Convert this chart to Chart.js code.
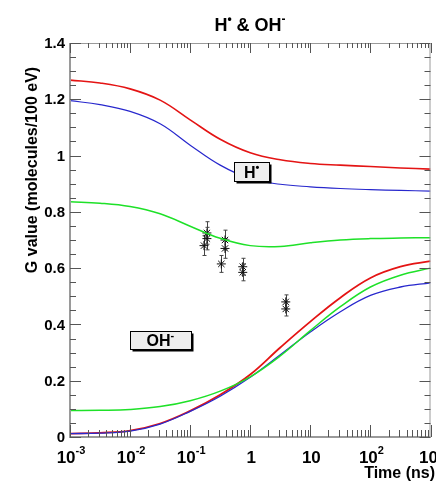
<!DOCTYPE html>
<html>
<head>
<meta charset="utf-8">
<script src="https://cdn.jsdelivr.net/npm/chart.js@4/dist/chart.umd.min.js"></script>
<style>
  html, body { margin: 0; padding: 0; background: #fff; }
  #wrap { width: 436px; height: 482px; position: relative; }
</style>
</head>
<body>
<div id="wrap"><canvas id="myChart"></canvas></div>
<script>
// time grid (ns), half-decade steps
const timeNs = [0.001, 0.00316, 0.01, 0.0316, 0.1, 0.316, 1, 3.16, 10, 31.6, 100, 316, 1000];

// H• G values
const hRed   = [1.268, 1.258, 1.237, 1.197, 1.127, 1.058, 1.010, 0.985, 0.972, 0.966, 0.961, 0.956, 0.952];
const hBlue  = [1.195, 1.181, 1.157, 1.113, 1.037, 0.966, 0.918, 0.898, 0.889, 0.883, 0.879, 0.876, 0.874];
const hGreen = [0.836, 0.831, 0.819, 0.793, 0.749, 0.706, 0.680, 0.677, 0.690, 0.700, 0.705, 0.707, 0.708];

// OH- G values
const ohRed   = [0.012, 0.015, 0.023, 0.048, 0.093, 0.150, 0.222, 0.318, 0.410, 0.495, 0.565, 0.605, 0.625];
const ohBlue  = [0.012, 0.014, 0.021, 0.046, 0.091, 0.145, 0.212, 0.292, 0.373, 0.445, 0.503, 0.533, 0.548];
const ohGreen = [0.094, 0.095, 0.098, 0.108, 0.129, 0.163, 0.214, 0.288, 0.378, 0.463, 0.533, 0.575, 0.600];

// measurements
const expTime = [0.17, 0.19, 0.19, 0.33, 0.38, 0.38, 0.75, 0.75, 3.9, 3.9];
const expG    = [0.680, 0.705, 0.725, 0.615, 0.670, 0.700, 0.585, 0.605, 0.455, 0.480];
const expErr  = [0.035, 0.040, 0.040, 0.030, 0.035, 0.035, 0.030, 0.030, 0.025, 0.025];

// axis ticks
const xTickVals = [0.001, 0.01, 0.1, 1, 10, 100, 1000];
const xTickLabels = [["10", "-3"], ["10", "-2"], ["10", "-1"], ["1", ""], ["10", ""], ["10", "2"], ["10", "3"]];
const yTickVals = [0, 0.2, 0.4, 0.6, 0.8, 1, 1.2, 1.4];
const yTickLabels = ["0", "0.2", "0.4", "0.6", "0.8", "1", "1.2", "1.4"];

const FONT = '"Liberation Sans", Arial, Helvetica, sans-serif';
const RED = 'rgb(228,20,20)', BLUE = 'rgb(40,40,205)', GREEN = 'rgb(30,225,40)';

const pts = (ys) => timeNs.map((t, i) => ({x: t, y: ys[i]}));
const curve = (ys, color, w) => ({
  type: 'line', data: pts(ys), borderColor: color, borderWidth: w,
  pointRadius: 0, tension: 0.4, fill: false
});

// draw a string made of [text, size, raise] parts
function drawParts(ctx, parts, x, y, align) {
  let total = 0;
  parts.forEach(p => { ctx.font = 'bold ' + p[1] + 'px ' + FONT; total += ctx.measureText(p[0]).width; });
  let cx = align === 'center' ? x - total / 2 : (align === 'right' ? x - total : x);
  ctx.textAlign = 'left';
  ctx.textBaseline = 'alphabetic';
  parts.forEach(p => {
    ctx.font = 'bold ' + p[1] + 'px ' + FONT;
    ctx.fillText(p[0], cx, y - p[2]);
    cx += ctx.measureText(p[0]).width;
  });
}

function drawBox(ctx, cx, cy, w, h, parts) {
  const x0 = Math.round(cx - w / 2) + 0.5, y0 = Math.round(cy - h / 2) + 0.5;
  ctx.fillStyle = '#000';
  ctx.fillRect(x0 + 2, y0 + 2, w, h);
  ctx.fillStyle = '#eeeeee';
  ctx.fillRect(x0, y0, w, h);
  ctx.strokeStyle = '#000';
  ctx.lineWidth = 1;
  ctx.strokeRect(x0, y0, w, h);
  ctx.fillStyle = '#000';
  drawParts(ctx, parts, cx, cy + 6, 'center');
}

const errorBars = {
  id: 'errorBars',
  beforeDatasetsDraw(chart) {
    const {ctx, scales: {x, y}} = chart;
    ctx.save();
    ctx.strokeStyle = '#444';
    ctx.lineWidth = 1;
    expTime.forEach((t, i) => {
      const px = Math.round(x.getPixelForValue(t)) + 0.5;
      const y1 = y.getPixelForValue(expG[i] - expErr[i]);
      const y2 = y.getPixelForValue(expG[i] + expErr[i]);
      ctx.beginPath();
      ctx.moveTo(px, y1); ctx.lineTo(px, y2);
      ctx.moveTo(px - 2, y1); ctx.lineTo(px + 2, y1);
      ctx.moveTo(px - 2, y2); ctx.lineTo(px + 2, y2);
      ctx.stroke();
    });
    ctx.restore();
  }
};

const decorations = {
  id: 'decorations',
  afterDatasetsDraw(chart) {
    const {ctx, scales: {x, y}} = chart;
    ctx.save();
    drawBox(ctx, x.getPixelForValue(1.06), y.getPixelForValue(0.942), 35, 19, [["H", 16, 0], ["\u2022", 11, 7]]);
    drawBox(ctx, x.getPixelForValue(0.032), y.getPixelForValue(0.345), 61, 18, [["OH", 16, 0], ["-", 11, 7]]);
    ctx.restore();
  },
  afterDraw(chart) {
    const {ctx, chartArea: a, scales: {x, y}} = chart;
    ctx.save();
    // frame
    ctx.strokeStyle = '#9a9a9a';
    ctx.lineWidth = 2;
    ctx.beginPath();
    ctx.moveTo(a.left, a.top); ctx.lineTo(a.left, a.bottom); ctx.lineTo(a.right, a.bottom);
    ctx.stroke();
    ctx.lineWidth = 1;
    ctx.beginPath();
    ctx.moveTo(a.left, a.top + 0.5); ctx.lineTo(a.right - 0.5, a.top + 0.5); ctx.lineTo(a.right - 0.5, a.bottom);
    ctx.stroke();

    // ticks
    ctx.strokeStyle = '#555';
    ctx.lineWidth = 1;
    ctx.beginPath();
    for (let d = -3; d <= 3; d++) {
      for (let m = 1; m <= 9; m++) {
        const t = m * Math.pow(10, d);
        if (t > 1000) break;
        const px = Math.round(x.getPixelForValue(t)) + 0.5;
        const len = m === 1 ? 12 : 7;
        ctx.moveTo(px, a.bottom); ctx.lineTo(px, a.bottom - len);
        ctx.moveTo(px, a.top); ctx.lineTo(px, a.top + len - 2);
      }
    }
    for (let v = 0; v <= 1.4001; v += 0.05) {
      const py = Math.round(y.getPixelForValue(v)) + 0.5;
      const major = Math.abs(v / 0.2 - Math.round(v / 0.2)) < 1e-6;
      const len = major ? 11 : 6;
      ctx.moveTo(a.left, py); ctx.lineTo(a.left + len, py);
      ctx.moveTo(a.right, py); ctx.lineTo(a.right - len, py);
    }
    ctx.stroke();

    // tick labels
    ctx.fillStyle = '#000';
    ctx.font = 'bold 15px ' + FONT;
    ctx.textAlign = 'right';
    ctx.textBaseline = 'middle';
    yTickVals.forEach((v, i) => ctx.fillText(yTickLabels[i], a.left - 5, y.getPixelForValue(v) + 1));
    xTickVals.forEach((v, i) => {
      const lab = xTickLabels[i];
      drawParts(ctx, [[lab[0], 17, 0], [lab[1], 11, 9]], x.getPixelForValue(v) + 1, 463, 'center');
    });

    // titles
    drawParts(ctx, [["H", 18, 0], ["\u2022", 12, 8], [" & OH", 18, 0], ["-", 12, 8]], 250, 31, 'center');
    drawParts(ctx, [["Time (ns)", 16, 0]], 435, 478, 'right');
    ctx.translate(31, 170);
    ctx.rotate(-Math.PI / 2);
    drawParts(ctx, [["G value (molecules/100 eV)", 16, 0]], 0, 6, 'center');
    ctx.restore();
  }
};

const ctx = document.getElementById('myChart');
new Chart(ctx, {
  type: 'scatter',
  plugins: [errorBars, decorations],
  data: {
    datasets: [
      curve(hGreen, GREEN, 1.5),
      curve(hBlue, BLUE, 1.2),
      curve(hRed, RED, 1.6),
      curve(ohGreen, GREEN, 1.5),
      curve(ohBlue, BLUE, 1.3),
      curve(ohRed, RED, 1.8),
      {
        type: 'scatter',
        data: expTime.map((t, i) => ({x: t, y: expG[i]})),
        pointStyle: 'star', pointRadius: 4.5, borderWidth: 1,
        borderColor: '#111', backgroundColor: '#111'
      }
    ]
  },
  options: {
    responsive: true,
    maintainAspectRatio: false,
    animation: false,
    layout: {padding: {left: 70, top: 43, right: 2, bottom: 45}},
    plugins: {legend: {display: false}, tooltip: {enabled: false}, title: {display: false}},
    scales: {
      x: {type: 'logarithmic', min: 0.001, max: 1000, display: false},
      y: {type: 'linear', min: 0, max: 1.4, display: false}
    }
  }
});
</script>
</body>
</html>
